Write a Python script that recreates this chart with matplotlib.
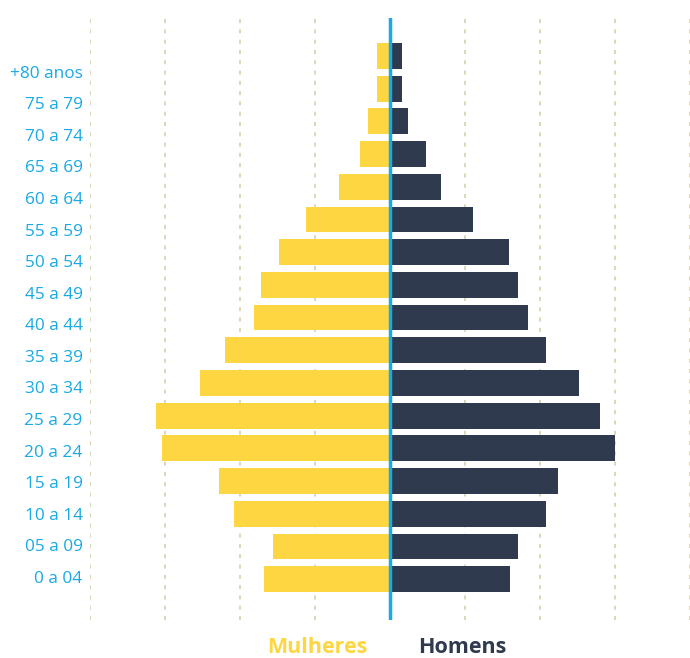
import matplotlib
matplotlib.use("Agg")
import matplotlib.pyplot as plt
import numpy as np

plt.rcParams["font.family"] = ["Open Sans", "DejaVu Sans"]

# age groups, bottom to top
faixas = ["0 a 04", "05 a 09", "10 a 14", "15 a 19", "20 a 24", "25 a 29",
          "30 a 34", "35 a 39", "40 a 44", "45 a 49", "50 a 54", "55 a 59",
          "60 a 64", "65 a 69", "70 a 74", "75 a 79", "+80 anos"]
# share of population (grid step = 1)
mulheres = [1.67, 1.56, 2.08, 2.28, 3.04, 3.12, 2.53, 2.19, 1.81, 1.72,
            1.47, 1.12, 0.67, 0.40, 0.29, 0.17, 0.17]
homens = [1.60, 1.71, 2.09, 2.25, 3.00, 2.80, 2.52, 2.09, 1.85, 1.71,
          1.59, 1.11, 0.69, 0.49, 0.25, 0.17, 0.17]
grid_x = [-4, -3, -2, -1, 1, 2, 3, 4]

YELLOW = "#fdd641"
NAVY = "#2f3a4e"
BLUE = "#19a9e5"
GRID = "#d8d3b3"

W, H = 690, 658
fig = plt.figure(figsize=(W / 100, H / 100), dpi=100)
ax = fig.add_axes([89.5 / W, 38 / H, 601 / W, 602 / H])

y = np.arange(len(faixas))
ax.barh(y, [-m for m in mulheres], height=0.79, color=YELLOW, zorder=2)
ax.barh(y, homens, height=0.79, color=NAVY, zorder=2)

for gx in grid_x:
    ax.axvline(gx, color=GRID, lw=1.3, linestyle=(0, (2.2, 3.5)), zorder=1)
ax.axvline(0, color=BLUE, lw=2.5, zorder=3)

ax.set_xlim(-4.0, 4.013)
ax.set_ylim(-1.25, 17.16)

# labels sit on a slightly tighter spacing than the bars
ax.set_yticks(0.07 + 0.9655 * y)
ax.set_yticklabels(faixas, color=BLUE, fontsize=12.4)
ax.tick_params(axis="y", length=0, pad=5)
ax.set_xticks([])
for s in ax.spines.values():
    s.set_visible(False)

fig.text(317 / W, 1 - 647.5 / H, "Mulheres", color=YELLOW, fontsize=15.5,
         fontweight="bold", ha="center", va="center")
fig.text(462 / W, 1 - 647.5 / H, "Homens", color=NAVY, fontsize=15.5,
         fontweight="bold", ha="center", va="center")

fig.savefig("out.png", dpi=100, facecolor="white")
